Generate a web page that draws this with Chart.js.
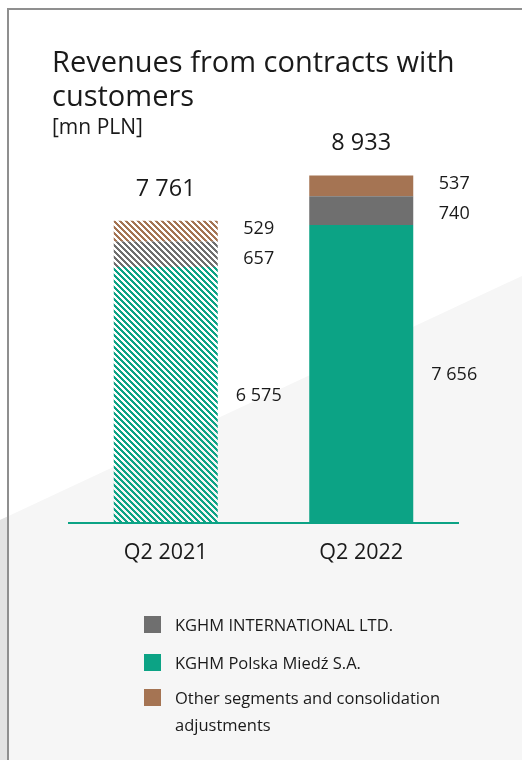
<!DOCTYPE html>
<html>
<head>
<meta charset="utf-8">
<script src="https://cdn.jsdelivr.net/npm/chart.js@4"></script>
<style>
  html, body { margin: 0; padding: 0; }
  body { width: 522px; height: 760px; position: relative; overflow: hidden; background: #fff;
         font-family: "Open Sans", sans-serif; color: #1a1a1a; }
  .bg { position: absolute; left: 0; top: 0; width: 522px; height: 760px;
        clip-path: polygon(0 520px, 522px 276px, 522px 760px, 0 760px); }
  .bg.main { background: #f6f6f6; }
  .bg.edge { background: #e3e3e3; width: 7px; }
  .frame { position: absolute; left: 7px; top: 8px; width: 520px; height: 760px;
           border-left: 2px solid #8f8f8f; border-top: 2px solid #8f8f8f; }
  #chart { position: absolute; left: 0; top: 0; }
  .title { position: absolute; left: 52px; top: 44px; font-size: 29px; line-height: 34px; }
  .unit { position: absolute; left: 52px; top: 114px; font-size: 21px; line-height: 24px; }
  .legend { position: absolute; left: 0; top: 0; }
  .legend .item { position: absolute; left: 144px; width: 330px; }
  .legend .box { position: absolute; left: 0; top: 5px; width: 17px; height: 17px; }
  .legend .txt { position: absolute; left: 31px; top: 0; font-size: 16.5px; line-height: 27px; }
</style>
</head>
<body>
<div class="bg main"></div>
<div class="bg edge"></div>
<div class="frame"></div>
<canvas id="chart" width="522" height="760"></canvas>
<div class="title">Revenues from contracts with<br>customers</div>
<div class="unit">[mn PLN]</div>
<div class="legend" id="legend"></div>

<script>
// quarters on the x axis
const quarters = ["Q2 2021", "Q2 2022"];

// revenues per segment, mn PLN
const polskaMiedz = [6575, 7656];
const international = [657, 740];
const otherSegments = [529, 537];

const segmentNames = [
    "KGHM Polska Miedź S.A.",
    "KGHM INTERNATIONAL LTD.",
    "Other segments and consolidation adjustments"
];

const TEAL = "#0ca385";
const GREY = "#6f6f6f";
const BROWN = "#a57453";
const TEXT = "#1a1a1a";

// diagonal stripes for the prior-year bar
function stripes(color) {
    const size = 6;
    const c = document.createElement("canvas");
    c.width = size;
    c.height = size;
    const g = c.getContext("2d");
    g.fillStyle = color;
    for (let py = 0; py < size; py++) {
        for (let px = 0; px < size; px++) {
            if (((px - py) % size + size) % size < 3) g.fillRect(px, py, 1, 1);
        }
    }
    return g.createPattern(c, "repeat");
}

const totals = quarters.map((q, i) => polskaMiedz[i] + international[i] + otherSegments[i]);

const fmt = v => String(v).replace(/\B(?=(\d{3})+(?!\d))/g, " ");

// =========================
// LABELS, BASELINE, CATEGORIES
// =========================
const labelsPlugin = {
    id: "labelsPlugin",
    afterDatasetsDraw(chart) {
        const { ctx, chartArea, scales: { x, y } } = chart;
        ctx.save();

        // baseline
        const y0 = y.getPixelForValue(0);
        ctx.strokeStyle = TEAL;
        ctx.lineWidth = 2;
        ctx.beginPath();
        ctx.moveTo(chartArea.left, y0 + 1);
        ctx.lineTo(chartArea.right, y0 + 1);
        ctx.stroke();

        ctx.fillStyle = TEXT;
        ctx.textAlign = "center";
        ctx.textBaseline = "middle";

        quarters.forEach((q, i) => {
            const cx = x.getPixelForValue(i);

            // segment values to the right of the bar
            const items = chart.data.datasets.map((ds, d) => {
                const bar = chart.getDatasetMeta(d).data[i];
                return { text: fmt(ds.data[i]), y: (bar.y + bar.base) / 2 + 1, x: bar.x + bar.width / 2 + 41 };
            }).sort((a, b) => a.y - b.y);

            for (let k = 1; k < items.length; k++) {
                const diff = items[k].y - items[k - 1].y;
                if (diff < 30) {
                    const shift = (30 - diff) / 2;
                    items[k - 1].y -= shift;
                    items[k].y += shift;
                }
            }
            ctx.font = '18px "Open Sans"';
            items.forEach(it => ctx.fillText(it.text, it.x, it.y));

            // total above the stack
            ctx.font = '23.5px "Open Sans"';
            ctx.fillText(fmt(totals[i]), cx, y.getPixelForValue(totals[i]) - 32);

            // category label
            ctx.font = '21.5px "Open Sans"';
            ctx.fillText(q, cx, y0 + 31);
        });

        ctx.restore();
    }
};

const ctx = document.getElementById("chart");

new Chart(ctx, {
    type: "bar",
    data: {
        labels: quarters,
        datasets: [
            { label: segmentNames[0], data: polskaMiedz, backgroundColor: [stripes(TEAL), TEAL] },
            { label: segmentNames[1], data: international, backgroundColor: [stripes(GREY), GREY] },
            { label: segmentNames[2], data: otherSegments, backgroundColor: [stripes(BROWN), BROWN] }
        ]
    },
    options: {
        responsive: false,
        animation: false,
        devicePixelRatio: 1,
        layout: { padding: { left: 68, right: 63, top: 134, bottom: 238 } },
        datasets: { bar: { barPercentage: 0.532, categoryPercentage: 1, borderWidth: 0 } },
        scales: {
            x: { stacked: true, display: false },
            y: { stacked: true, display: false, min: 0, max: 10000 }
        },
        plugins: {
            legend: { display: false },
            tooltip: { enabled: false }
        }
    },
    plugins: [labelsPlugin]
});

// =========================
// LEGEND
// =========================
const legendRows = [
    { name: segmentNames[1], color: GREY, top: 611 },
    { name: segmentNames[0], color: TEAL, top: 649 },
    { name: segmentNames[2], color: BROWN, top: 684 }
];
const legend = document.getElementById("legend");
legendRows.forEach(row => {
    const div = document.createElement("div");
    div.className = "item";
    div.style.top = row.top + "px";
    div.innerHTML = `<div class="box" style="background:${row.color}"></div><div class="txt">${row.name}</div>`;
    legend.appendChild(div);
});
</script>
</body>
</html>
